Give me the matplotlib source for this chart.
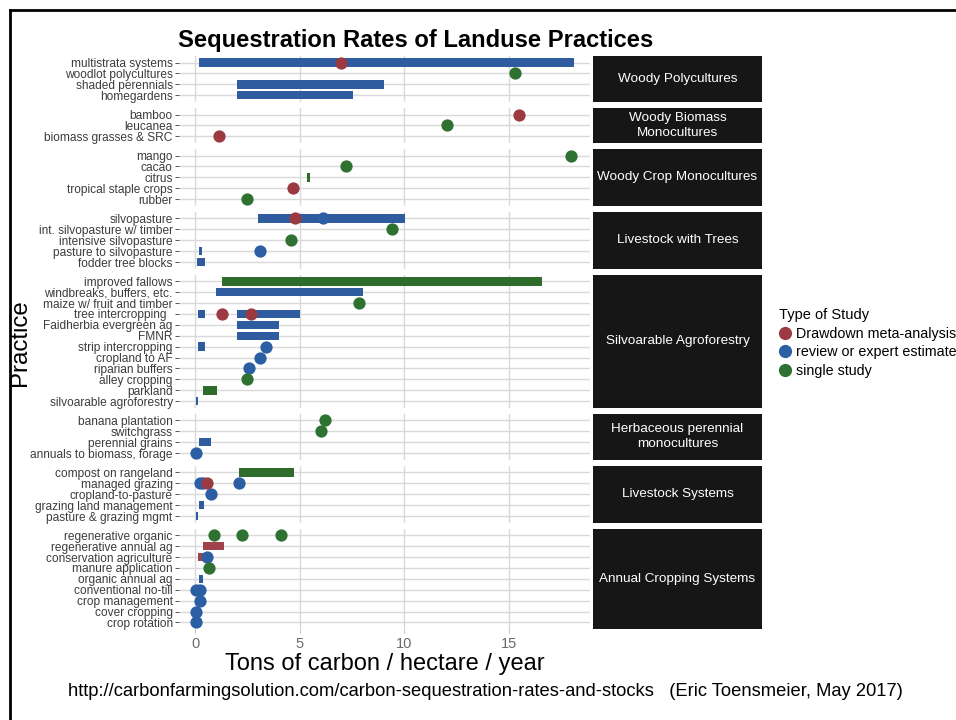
import matplotlib
matplotlib.use("Agg")
import matplotlib.pyplot as plt
from matplotlib.lines import Line2D

plt.rcParams['font.family'] = ['Liberation Sans', 'DejaVu Sans']

# ---------------- data ----------------
group_names = [
    "Woody Polycultures",
    "Woody Biomass\nMonocultures",
    "Woody Crop Monocultures",
    "Livestock with Trees",
    "Silvoarable Agroforestry",
    "Herbaceous perennial\nmonocultures",
    "Livestock Systems",
    "Annual Cropping Systems",
]
group_practices = [
    ["multistrata systems", "woodlot polycultures", "shaded perennials", "homegardens"],
    ["bamboo", "leucanea", "biomass grasses & SRC"],
    ["mango", "cacao", "citrus", "tropical staple crops", "rubber"],
    ["silvopasture", "int. silvopasture w/ timber", "intensive silvopasture",
     "pasture to silvopasture", "fodder tree blocks"],
    ["improved fallows", "windbreaks, buffers, etc.", "maize w/ fruit and timber",
     "tree intercropping  ", "Faidherbia evergreen ag", "FMNR", "strip intercropping",
     "cropland to AF", "riparian buffers", "alley cropping", "parkland",
     "silvoarable agroforestry"],
    ["banana plantation", "switchgrass", "perennial grains", "annuals to biomass, forage"],
    ["compost on rangeland", "managed grazing", "cropland-to-pasture",
     "grazing land management", "pasture & grazing mgmt"],
    ["regenerative organic", "regenerative annual ag", "conservation agriculture",
     "manure application", "organic annual ag", "conventional no-till",
     "crop management", "cover cropping", "crop rotation"],
]

study_types = ["Drawdown meta-analysis", "review or expert estimate", "single study"]

# point estimates (practice, value, type index)
point_practice = [
    "multistrata systems", "woodlot polycultures",
    "bamboo", "leucanea", "biomass grasses & SRC",
    "mango", "cacao", "tropical staple crops", "rubber",
    "silvopasture", "silvopasture", "int. silvopasture w/ timber",
    "intensive silvopasture", "pasture to silvopasture",
    "maize w/ fruit and timber", "tree intercropping", "tree intercropping",
    "strip intercropping", "cropland to AF", "riparian buffers", "alley cropping",
    "banana plantation", "switchgrass", "annuals to biomass, forage",
    "managed grazing", "managed grazing", "managed grazing", "managed grazing",
    "cropland-to-pasture",
    "regenerative organic", "regenerative organic", "regenerative organic",
    "conservation agriculture", "manure application",
    "conventional no-till", "conventional no-till",
    "crop management", "cover cropping", "crop rotation",
]
point_value = [
    7.0, 15.3,
    15.5, 12.06, 1.14,
    18.0, 7.2, 4.7, 2.48,
    4.78, 6.1, 9.43,
    4.6, 3.08,
    7.82, 1.27, 2.68,
    3.39, 3.08, 2.58, 2.47,
    6.2, 6.03, 0.05,
    0.24, 0.38, 0.57, 2.07,
    0.75,
    0.88, 2.25, 4.1,
    0.57, 0.66,
    0.05, 0.24,
    0.24, 0.05, 0.05,
]
point_type = [
    0, 2,
    0, 2, 0,
    2, 2, 0, 2,
    0, 1, 2,
    2, 1,
    2, 0, 0,
    1, 1, 1, 2,
    2, 2, 1,
    1, 1, 0, 1,
    1,
    2, 2, 2,
    1, 2,
    1, 1,
    1, 1, 1,
]

# ranges (practice, start, end, type index)
bar_practice = [
    "multistrata systems", "shaded perennials", "homegardens",
    "citrus",
    "silvopasture", "pasture to silvopasture", "fodder tree blocks",
    "improved fallows", "windbreaks, buffers, etc.", "tree intercropping",
    "tree intercropping", "Faidherbia evergreen ag", "FMNR", "strip intercropping",
    "parkland", "silvoarable agroforestry",
    "perennial grains",
    "compost on rangeland", "grazing land management", "pasture & grazing mgmt",
    "regenerative annual ag", "conservation agriculture", "organic annual ag",
]
bar_start = [
    0.17, 1.98, 1.98,
    5.33,
    2.99, 0.17, 0.07,
    1.28, 0.97, 0.15,
    1.98, 1.98, 1.98, 0.15,
    0.35, 0.04,
    0.19,
    2.09, 0.19, 0.04,
    0.38, 0.15, 0.18,
]
bar_end = [
    18.14, 9.04, 7.53,
    5.48,
    10.05, 0.33, 0.48,
    16.6, 8.04, 0.46,
    5.0, 3.99, 3.99, 0.46,
    1.06, 0.13,
    0.75,
    4.72, 0.44, 0.13,
    1.36, 0.55, 0.36,
]
bar_type = [
    1, 1, 1,
    2,
    1, 1, 1,
    2, 1, 1,
    1, 1, 1, 1,
    2, 1,
    1,
    2, 1, 1,
    0, 0, 1,
]

x_ticks = [0, 5, 10, 15]

# ---------------- style ----------------
point_colors = ["#9b3a40", "#2c5ea4", "#2e7131"]
bar_colors = ["#a0424a", "#2f5c9f", "#2f6c2c"]

W, H = 956, 720
fig = plt.figure(figsize=(W / 100, H / 100), dpi=100)
fig.patch.set_facecolor("white")

def fx(px):
    return px / W

def fy(py):
    return 1 - py / H

panel_left, panel_right = 179, 590
strip_left, strip_right = 593, 762
panel_top, panel_bottom = 56, 629
gap = 6.2
units = [len(p) + 0.2 for p in group_practices]
unit_px = (panel_bottom - panel_top - gap * (len(units) - 1)) / sum(units)

xlim = (-0.78, 18.9)
y = panel_top
axes = []
for gi, (gname, practices) in enumerate(zip(group_names, group_practices)):
    h = units[gi] * unit_px
    ax = fig.add_axes([fx(panel_left), fy(y + h), fx(panel_right - panel_left), h / H])
    axes.append(ax)
    n = len(practices)
    keys = [p.strip() for p in practices]
    ax.set_xlim(*xlim)
    ax.set_ylim(n - 1 + 0.6, -0.6)
    ax.set_facecolor("white")
    for s in ax.spines.values():
        s.set_visible(False)
    ax.set_yticks(range(n))
    ax.set_yticklabels(practices, fontsize=8.6, color="#3c3c3c")
    ax.set_xticks(x_ticks)
    ax.grid(True, color="#d9d9d9", lw=1.0, zorder=0)
    ax.set_axisbelow(True)
    ax.tick_params(axis="y", length=3, width=0.7, color="#555555", pad=1.5)
    if gi == len(group_names) - 1:
        ax.tick_params(axis="x", length=3, width=0.7, color="#bbbbbb",
                       labelsize=10.5, labelcolor="#6a6a6a", pad=3)
    else:
        ax.tick_params(axis="x", length=0, labelbottom=False)

    # bars
    for p, a, b, t in zip(bar_practice, bar_start, bar_end, bar_type):
        if p in keys:
            ax.barh(keys.index(p), b - a, left=a, height=0.78,
                    color=bar_colors[t], zorder=2, lw=0)
    # points (blue first, then red, then green)
    for order in (1, 0, 2):
        for p, v, t in zip(point_practice, point_value, point_type):
            if t == order and p in keys:
                ax.scatter([v], [keys.index(p)], s=78, color=point_colors[t],
                           zorder=3, lw=0)

    # strip
    sax = fig.add_axes([fx(strip_left), fy(y + h), fx(strip_right - strip_left), h / H])
    sax.set_facecolor("#161616")
    sax.set_xticks([])
    sax.set_yticks([])
    for s in sax.spines.values():
        s.set_visible(False)
    sax.text(0.5, 0.5, gname, color="white", fontsize=9.7, ha="center",
             va="center", transform=sax.transAxes, linespacing=1.3)

    y += h + gap

# titles and labels
fig.text(fx(178), fy(47), "Sequestration Rates of Landuse Practices",
         fontsize=17.1, fontweight="bold", ha="left", va="baseline", color="black")
fig.text(fx((panel_left + panel_right) / 2), fy(670), "Tons of carbon / hectare / year",
         fontsize=17, ha="center", va="baseline", color="black")
fig.text(fx(20), fy((panel_top + panel_bottom) / 2), "Practice", fontsize=17.3,
         rotation=90, ha="center", va="center", color="black")
fig.text(fx(485), fy(692),
         "http://carbonfarmingsolution.com/carbon-sequestration-rates-and-stocks   (Eric Toensmeier, May 2017)",
         fontsize=13.2, ha="center", va="center", color="black")

# legend
handles = [Line2D([], [], marker="o", ls="", markersize=9.5,
                  markerfacecolor=c, markeredgewidth=0) for c in point_colors]
leg = fig.legend(handles, study_types, title="Type of Study", loc="upper left",
                 bbox_to_anchor=(fx(779), fy(308)), frameon=False, fontsize=10.3,
                 title_fontsize=10.5, handlelength=0.9, handletextpad=0.3,
                 labelspacing=0.33, borderpad=0, borderaxespad=0)
leg._legend_box.align = "left"

# slide frame (top and left edges visible)
fig.add_artist(Line2D([fx(9.5), 1.0], [fy(10), fy(10)], color="black", lw=2))
fig.add_artist(Line2D([fx(9.5), fx(9.5)], [fy(10), 0.0], color="black", lw=2))

fig.savefig("out.png", dpi=100)
